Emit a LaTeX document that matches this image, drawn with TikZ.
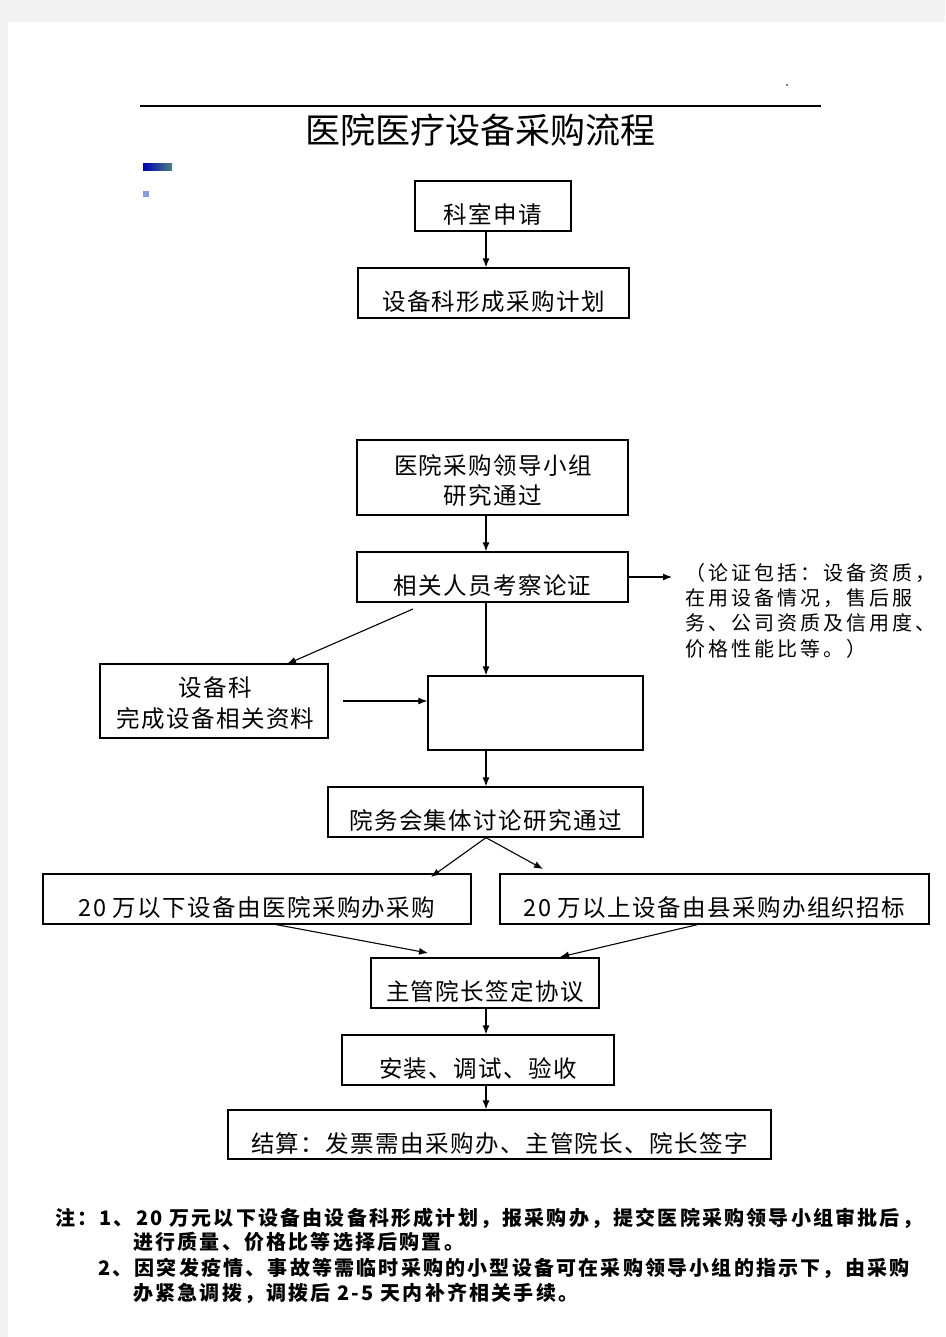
\documentclass[tikz,border=0pt]{standalone}
\usepackage{fontspec}
\setmainfont{Noto Sans CJK SC}
\newfontfamily\boxfont{Noto Sans CJK SC}[LetterSpace=6]
\newfontfamily\sidefont{Noto Sans CJK SC}[LetterSpace=15]
\newfontfamily\notefont{Noto Sans CJK SC}[LetterSpace=11]
\usetikzlibrary{arrows.meta,calc}
\begin{document}
\begin{tikzpicture}[x=1pt,y=-1pt,
  box/.style={draw=black,line width=1.3pt,inner sep=0pt,
    font=\boxfont\fontsize{23.5pt}{28pt}\selectfont},
  one/.style={text height=35pt,text depth=0pt},
  two/.style={inner sep=0pt,align=center},
  arr/.style={line width=1.1pt,-{Latex[length=9pt,width=7pt]}},
  side/.style={inner sep=0pt,anchor=base west,font=\sidefont\fontsize{20pt}{25pt}\selectfont},
  note/.style={inner sep=0pt,anchor=base west,font=\notefont\bfseries\fontsize{20pt}{25pt}\selectfont}]
\useasboundingbox (0,0) rectangle (945,1337);
\fill[black!5] (0,0) rectangle (945,1337);
\fill[white] (8,22) rectangle (945,1337);
% header
\draw[line width=1.2pt] (140,106) -- (821,106);
\fill (787,85) circle (0.8);
\node[inner sep=0pt,anchor=base,font=\fontsize{35pt}{40pt}\selectfont] (title) at (480.5,144) {医院医疗设备采购流程};
\shade[left color=blue!70!black,right color=teal!40!gray] (143,164) rectangle (172,171);
\fill[cyan!40!blue!50] (143,191) rectangle (149,197);
% spine coordinate
\coordinate (spine) at (486,0);
% boxes
\node[box,one,minimum width=156pt,minimum height=50pt] (b1) at (493,206) {科室申请};
\node[box,one,minimum width=271pt,minimum height=50pt] (b2) at (493.5,293) {设备科形成采购计划};
\node[box,minimum width=271pt,minimum height=75pt] (b3) at (492.5,477.5) {};
\node[two,font=\boxfont\fontsize{23.5pt}{30pt}\selectfont] (t3) at (493,481) {医院采购领导小组\\研究通过};
\node[box,one,minimum width=271pt,minimum height=50pt] (b4) at (492.5,577) {相关人员考察论证};
\node[box,minimum width=228pt,minimum height=74pt] (b5) at (214,701) {};
\node[two,font=\boxfont\fontsize{23.5pt}{31pt}\selectfont] (t5) at (215.5,703.5) {设备科\\完成设备相关资料};
\node[box,minimum width=215pt,minimum height=74pt] (b6) at (535.5,713) {};
\node[box,one,minimum width=315pt,minimum height=50pt] (b7) at (485.5,812) {院务会集体讨论研究通过};
\node[box,one,minimum width=428pt,minimum height=50pt] (b8) at (257,899) {20 万以下设备由医院采购办采购};
\node[box,one,minimum width=429pt,minimum height=50pt] (b9) at (714.5,899) {20 万以上设备由县采购办组织招标};
\node[box,one,minimum width=228pt,minimum height=50pt] (b10) at (485,983) {主管院长签定协议};
\node[box,one,minimum width=272pt,minimum height=50pt] (b11) at (478,1060) {安装、调试、验收};
\node[box,one,minimum width=543pt,minimum height=49pt] (b12) at (499.5,1134.5) {结算：发票需由采购办、主管院长、院长签字};
% side note
\node[side] (s1) at (685,580) {（论证包括：设备资质，};
\node[side] (s2) at (685,605) {在用设备情况，售后服};
\node[side] (s3) at (685,630) {务、公司资质及信用度、};
\node[side] (s4) at (685,656) {价格性能比等。）};
% free-end coordinates
\coordinate (sideend) at (672,577);
\coordinate (d1s) at (413,609);
\coordinate (d1e) at (287,664);
\coordinate (h5s) at (343,701);
\coordinate (l8e) at (431,877);
\coordinate (r9e) at (543,869);
\coordinate (f8s) at (273,924);
\coordinate (f8e) at (428,953);
\coordinate (f9s) at (700,924);
\coordinate (f9e) at (560,957);
% connectors
\draw[arr] (b1.south -| spine) -- (b2.north -| spine);
\draw[arr] (b3.south -| spine) -- (b4.north -| spine);
\draw[arr] (b4.east) -- (sideend);
\draw[arr] (d1s) -- (d1e);
\draw[arr] (b4.south -| spine) -- (b6.north -| spine);
\draw[arr] (h5s) -- (b6.west |- h5s);
\draw[arr] (b6.south -| spine) -- (b7.north -| spine);
\draw[arr] (b7.south -| spine) -- (l8e);
\draw[arr] (b7.south -| spine) -- (r9e);
\draw[arr] (f8s) -- (f8e);
\draw[arr] (f9s) -- (f9e);
\draw[arr] (b10.south -| spine) -- (b11.north -| spine);
\draw[arr] (b11.south -| spine) -- (b12.north -| spine);
% notes
\node[note] (n1) at (55,1225) {注：1、20 万元以下设备由设备科形成计划，报采购办，提交医院采购领导小组审批后，};
\node[note] (n2) at (133,1249) {进行质量、价格比等选择后购置。};
\node[note] (n3) at (98,1275) {2、因突发疫情、事故等需临时采购的小型设备可在采购领导小组的指示下，由采购};
\node[note] (n4) at (133,1300) {办紧急调拨，调拨后 2-5 天内补齐相关手续。};
\end{tikzpicture}
\end{document}
